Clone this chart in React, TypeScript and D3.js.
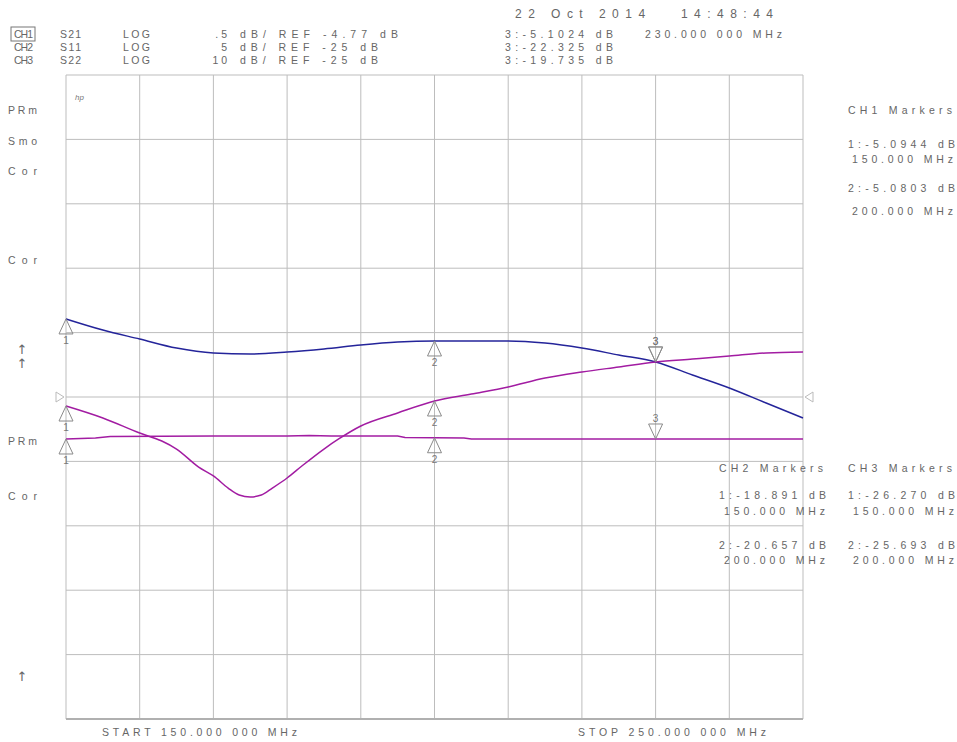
import React from "react";
import * as d3 from "d3";

// ---- data ----
const FREQ_START = 150;
const FREQ_STOP = 250;
const DIVISIONS = 10;

const CH1_FREQ = [150, 155, 160, 165, 170, 175, 180, 185, 190, 195, 200, 205, 210, 215, 220, 225, 230, 235, 240, 245, 250];
const CH1_S21 = [-4.164, -4.25, -4.32, -4.39, -4.428, -4.436, -4.421, -4.397, -4.366, -4.343, -4.335, -4.335, -4.335, -4.351, -4.39, -4.444, -4.498, -4.599, -4.7, -4.817, -4.933];

const CH2_FREQ = [150, 155, 160, 163, 165, 168, 170, 172, 173.5, 175, 176.5, 178, 180, 182, 185, 187, 190, 195, 200, 205, 210, 215, 220, 225, 230, 235, 240, 245, 250];
const CH2_S11 = [-25.7, -26.63, -27.8, -28.42, -29.04, -30.44, -31.13, -32.07, -32.61, -32.76, -32.61, -32.07, -31.29, -30.36, -29.04, -28.26, -27.25, -26.24, -25.31, -24.77, -24.22, -23.53, -23.06, -22.67, -22.28, -22.05, -21.82, -21.58, -21.51];

const CH3_FREQ = [150, 154, 156, 170, 180, 183, 186, 195, 196, 204, 205, 230, 250];
const CH3_S22 = [-31.52, -31.37, -31.13, -31.06, -31.06, -30.98, -31.06, -31.06, -31.29, -31.37, -31.52, -31.52, -31.52];

const CHANNELS = [
  { name: "CH1", param: "S21", fmt: "LOG", perDiv: 0.5, perDivLabel: ".5", ref: -4.77, refLabel: "-4.77" },
  { name: "CH2", param: "S11", fmt: "LOG", perDiv: 5, perDivLabel: "5", ref: -25, refLabel: "-25" },
  { name: "CH3", param: "S22", fmt: "LOG", perDiv: 10, perDivLabel: "10", ref: -25, refLabel: "-25" },
];
const ACTIVE_READOUT = ["3:-5.1024 dB", "3:-22.325 dB", "3:-19.735 dB"];
const ACTIVE_FREQ_LABEL = "230.000 000 MHz";
const DATE_LABEL = "22 Oct 2014   14:48:44";
const MARKER_FREQS = [150, 200];
const ACTIVE_MARKER_FREQ = 230;
const CH1_MARKERS = ["1:-5.0944 dB", "150.000 MHz", "2:-5.0803 dB", "200.000 MHz"];
const CH2_MARKERS = ["1:-18.891 dB", "150.000 MHz", "2:-20.657 dB", "200.000 MHz"];
const CH3_MARKERS = ["1:-26.270 dB", "150.000 MHz", "2:-25.693 dB", "200.000 MHz"];
const SOFTKEY_LABELS = [
  { t: "PRm", y: 114 }, { t: "Smo", y: 145 }, { t: "Cor", y: 175 }, { t: "Cor", y: 264 },
  { t: "↑", y: 354 }, { t: "↑", y: 368 }, { t: "PRm", y: 445 }, { t: "Cor", y: 500 }, { t: "↑", y: 681 },
];
const START_LABEL = "START 150.000 000 MHz";
const STOP_LABEL = "STOP 250.000 000 MHz";

const TRACES = [
  { freq: CH1_FREQ, vals: CH1_S21, ch: 0, color: "#24249a" },
  { freq: CH2_FREQ, vals: CH2_S11, ch: 1, color: "#a21ca2" },
  { freq: CH3_FREQ, vals: CH3_S22, ch: 2, color: "#a21ca2" },
];

// ---- layout ----
const W = 957, H = 742;
const L = 66, R = 803, T = 75, B = 719;
const TXT = "#666";
const FONT = "'Liberation Sans', Arial, sans-serif";

const x = d3.scaleLinear().domain([FREQ_START, FREQ_STOP]).range([L, R]);
const yFor = (ch: number) => {
  const c = CHANNELS[ch];
  return d3.scaleLinear().domain([c.ref - 5 * c.perDiv, c.ref + 5 * c.perDiv]).range([B, T]);
};
const valueAt = (freq: number[], vals: number[], f: number) =>
  d3.scaleLinear().domain(freq).range(vals)(f);

function Txt({ x, y, children, len, size = 10.5, anchor = "start" }: any) {
  return (
    <text
      x={x}
      y={y}
      fontSize={size}
      fill={TXT}
      fontFamily={FONT}
      textAnchor={anchor}
      textLength={len}
      lengthAdjust={len ? "spacing" : undefined}
      style={{ whiteSpace: "pre" }}
    >
      {children}
    </text>
  );
}

export default function App() {
  const xTicks = d3.range(DIVISIONS + 1).map((i) => FREQ_START + (i * (FREQ_STOP - FREQ_START)) / DIVISIONS);
  const yTicks = d3.range(DIVISIONS + 1).map((i) => T + (i * (B - T)) / DIVISIONS);
  const yc = (T + B) / 2;

  const line = (tr: any) => {
    const ys = yFor(tr.ch);
    return d3
      .line<number>()
      .x((_, i) => x(tr.freq[i]))
      .y((v) => ys(v))
      .curve(tr.ch === 2 ? d3.curveLinear : d3.curveMonotoneX)(tr.vals) as string;
  };

  const upTri = (px: number, py: number) => `M${px},${py} L${px - 7},${py + 15} L${px + 7},${py + 15} Z`;
  const downTri = (px: number, py: number) => `M${px},${py} L${px - 7},${py - 15} L${px + 7},${py - 15} Z`;

  return (
    <svg width={W} height={H} style={{ position: "absolute", left: 0, top: 0, background: "#fff" }}>
      {/* grid */}
      {xTicks.map((f, i) => (
        <line key={"vx" + i} x1={x(f)} x2={x(f)} y1={T} y2={B} stroke="#bdbdbd" strokeWidth={1} />
      ))}
      {yTicks.map((yy, i) => (
        <line key={"hy" + i} x1={L} x2={R} y1={yy} y2={yy} stroke="#bdbdbd" strokeWidth={1} />
      ))}
      <line x1={L} x2={R} y1={B} y2={B} stroke="#b0b0b0" strokeWidth={2} />

      {/* reference position indicators */}
      <path d={`M${L - 10},${yc - 5} L${L - 2},${yc} L${L - 10},${yc + 5} Z`} fill="none" stroke="#bbb" />
      <path d={`M${R + 10},${yc - 5} L${R + 2},${yc} L${R + 10},${yc + 5} Z`} fill="none" stroke="#bbb" />

      {/* hp logo */}
      <text x={75} y={100} fontSize={8} fontStyle="italic" fill="#777" fontFamily={FONT}>hp</text>

      {/* traces */}
      {TRACES.map((tr, i) => (
        <path key={"tr" + i} d={line(tr)} fill="none" stroke={tr.color} strokeWidth={1.5} />
      ))}

      {/* markers */}
      {TRACES.map((tr, i) => {
        const ys = yFor(tr.ch);
        return (
          <g key={"mk" + i}>
            {MARKER_FREQS.map((f, k) => {
              const px = x(f), py = ys(valueAt(tr.freq, tr.vals, f));
              return (
                <g key={k}>
                  <path d={upTri(px, py)} fill="none" stroke="#8a8a8a" strokeWidth={1} />
                  <text x={px} y={py + 25} fontSize={10} fill="#777" textAnchor="middle" fontFamily={FONT}>
                    {k + 1}
                  </text>
                </g>
              );
            })}
            {(() => {
              const px = x(ACTIVE_MARKER_FREQ), py = ys(valueAt(tr.freq, tr.vals, ACTIVE_MARKER_FREQ));
              return (
                <g>
                  <path d={downTri(px, py)} fill="none" stroke="#8a8a8a" strokeWidth={1} />
                  <text x={px} y={py - 17} fontSize={10} fill="#777" textAnchor="middle" fontFamily={FONT}>3</text>
                </g>
              );
            })()}
          </g>
        );
      })}

      {/* header */}
      <rect x={11} y={27} width={24} height={14} fill="none" stroke="#777" strokeWidth={1} />
      {CHANNELS.map((c, i) => {
        const yy = 38 + i * 13;
        return (
          <g key={"hdr" + i}>
            <Txt x={14} y={yy} len={19}>{c.name}</Txt>
            <Txt x={60} y={yy} len={21}>{c.param}</Txt>
            <Txt x={123} y={yy} len={27}>{c.fmt}</Txt>
            <Txt x={227} y={yy} anchor="end">{c.perDivLabel.split("").join(" ")}</Txt>
            <Txt x={240} y={yy} len={i === 0 ? 158 : 138}>{`dB/ REF ${c.refLabel} dB`}</Txt>
            <Txt x={505} y={yy} len={108}>{ACTIVE_READOUT[i]}</Txt>
          </g>
        );
      })}
      <Txt x={645} y={38} len={137}>{ACTIVE_FREQ_LABEL}</Txt>
      <Txt x={515} y={18} len={258} size={12}>{DATE_LABEL}</Txt>

      {/* left softkey labels */}
      {SOFTKEY_LABELS.map((s, i) =>
        s.t === "↑" ? (
          <text key={"sk" + i} x={22} y={s.y} fontSize={13} fill={TXT} textAnchor="middle" fontFamily="'DejaVu Sans', sans-serif">{s.t}</text>
        ) : (
          <Txt key={"sk" + i} x={8} y={s.y} len={29}>{s.t}</Txt>
        )
      )}

      {/* CH1 marker list */}
      <Txt x={848} y={114} len={104}>CH1 Markers</Txt>
      <Txt x={848} y={148} len={107}>{CH1_MARKERS[0]}</Txt>
      <Txt x={852} y={163} len={101}>{CH1_MARKERS[1]}</Txt>
      <Txt x={848} y={192} len={107}>{CH1_MARKERS[2]}</Txt>
      <Txt x={852} y={215} len={101}>{CH1_MARKERS[3]}</Txt>

      {/* CH2 / CH3 marker lists */}
      {[CH2_MARKERS, CH3_MARKERS].map((m, i) => {
        const x0 = i === 0 ? 719 : 848;
        return (
          <g key={"ml" + i}>
            <Txt x={x0} y={472} len={104}>{i === 0 ? "CH2 Markers" : "CH3 Markers"}</Txt>
            <Txt x={x0} y={499} len={107}>{m[0]}</Txt>
            <Txt x={x0 + 5} y={515} len={101}>{m[1]}</Txt>
            <Txt x={x0} y={549} len={107}>{m[2]}</Txt>
            <Txt x={x0 + 5} y={564} len={101}>{m[3]}</Txt>
          </g>
        );
      })}

      {/* start / stop */}
      <Txt x={102} y={736} len={195}>{START_LABEL}</Txt>
      <Txt x={578} y={736} len={188}>{STOP_LABEL}</Txt>
    </svg>
  );
}
